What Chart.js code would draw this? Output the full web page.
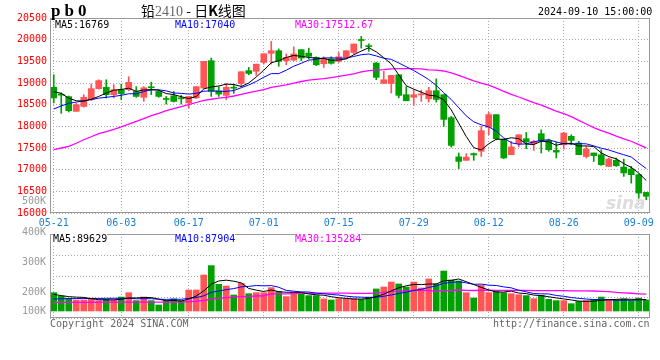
<!DOCTYPE html>
<html><head><meta charset="utf-8">
<script src="https://cdn.jsdelivr.net/npm/chart.js@4"></script>
<style>
html,body{margin:0;padding:0;background:#fff;}
#wrap{position:relative;width:660px;height:360px;overflow:hidden;background:#fff;}
canvas{position:absolute;left:0;top:0;}
.t{position:absolute;white-space:nowrap;font-family:"DejaVu Sans Mono",monospace;font-size:10px;line-height:11px;}
.bg{background:#fff;}
</style></head><body>
<div id="wrap">
<canvas id="vol" width="660" height="360"></canvas>
<canvas id="main" width="660" height="360"></canvas>
<div class="t" style="left:51px;top:2px;font:bold 17px 'Liberation Serif',serif;letter-spacing:4px;line-height:17px;">pb0</div>
<div class="t" style="left:141px;top:2px;font-family:'Noto Sans CJK SC';font-size:14px;line-height:16px;">铅<span style="color:#666;font-family:'Liberation Serif';">2410</span> - 日<b>K</b>线图</div>
<div class="t" style="left:538px;top:6px;color:#000;">2024-09-10 15:00:00</div>
<div class="t bg" style="left:55px;top:19px;color:#000;">MA5:16769</div>
<div class="t bg" style="left:175px;top:19px;color:#0000ff;">MA10:17040</div>
<div class="t bg" style="left:295px;top:19px;color:#ff00ff;">MA30:17512.67</div>
<div class="t bg" style="left:53px;top:233px;color:#000;">MA5:89629</div>
<div class="t bg" style="left:175px;top:233px;color:#0000ff;">MA10:87904</div>
<div class="t bg" style="left:295px;top:233px;color:#ff00ff;">MA30:135284</div>
<div class="t" style="left:22px;top:195px;color:#999;">500K</div>
<div class="t" style="left:22px;top:226px;color:#999;">400K</div>
<div class="t" style="left:22px;top:256px;color:#999;">300K</div>
<div class="t" style="left:22px;top:286px;color:#999;">200K</div>
<div class="t" style="left:22px;top:305px;color:#999;">100K</div>
<div class="t" style="left:50px;top:318px;color:#666;">Copyright 2024 SINA.COM</div>
<div class="t" style="left:493px;top:318px;color:#666;">http://finance.sina.com.cn</div>
<div class="t" style="left:606px;top:194px;color:#ddd;font:italic bold 17px 'DejaVu Sans',sans-serif;line-height:18px;">sina</div>
</div>
<script>
// ---------- data ----------
const dates = ['05-21','05-22','05-23','05-24','05-27','05-28','05-29','05-30','05-31',
'06-03','06-04','06-05','06-06','06-07','06-11','06-12','06-13','06-14',
'06-17','06-18','06-19','06-20','06-21','06-24','06-25','06-26','06-27','06-28',
'07-01','07-02','07-03','07-04','07-05','07-08','07-09','07-10','07-11','07-12',
'07-15','07-16','07-17','07-18','07-19','07-22','07-23','07-24','07-25','07-26',
'07-29','07-30','07-31','08-01','08-02','08-05','08-06','08-07','08-08','08-09',
'08-12','08-13','08-14','08-15','08-16','08-19','08-20','08-21','08-22','08-23',
'08-26','08-27','08-28','08-29','08-30','09-02','09-03','09-04','09-05','09-06',
'09-09','09-10'];
const tickDates = ['05-21','06-03','06-17','07-01','07-15','07-29','08-12','08-26','09-09'];

const open = [18900,18740,18685,18345,18460,18615,18870,18900,18730,18845,
 18845,18805,18670,18900,18805,18630,18705,18645,18540,18655,
 18885,19515,18820,18715,18890,18990,19285,19270,19475,19685,
 19745,19515,19530,19770,19690,19590,19445,19555,19500,19590,
 19705,19990,19850,19460,18990,18990,19190,18730,18670,18725,
 18635,18822,18730,18200,17295,17215,17370,17425,17975,18270,
 17705,17345,17600,17715,17600,17830,17675,17445,17575,17770,
 17615,17305,17385,17345,17075,17215,17060,17015,16885,16475];
const high = [19190,18775,18700,18530,18730,18975,19075,19075,18960,18975,
 19145,18915,18915,19020,18835,18690,18805,18715,18690,18915,
 19500,19575,18915,18990,18975,19260,19360,19435,19675,19960,
 19785,19670,19835,19770,19805,19605,19605,19605,19705,19745,
 19900,20075,19905,19475,19270,19175,19190,18915,18845,18835,
 18900,19095,18730,18230,17385,17370,17385,18000,18320,18270,
 17705,17655,17805,17860,17675,17920,17705,17630,17860,17805,
 17655,17540,17385,17460,17270,17270,17245,17075,16905,16475];
const low = [18540,18300,18330,18345,18440,18590,18860,18655,18655,18615,
 18820,18670,18575,18730,18670,18515,18560,18515,18420,18640,
 18870,18690,18690,18615,18760,18915,19190,19175,19435,19435,
 19385,19420,19515,19515,19555,19400,19360,19435,19475,19560,
 19670,19805,19730,19075,18990,18770,18655,18590,18485,18575,
 18560,18560,18000,17520,17025,17215,17215,17305,17805,17690,
 17255,17345,17525,17485,17445,17385,17425,17270,17475,17575,
 17345,17270,17190,17100,17075,17075,16845,16690,16345,16305];
const close = [18655,18720,18360,18500,18670,18870,19055,18730,18845,18755,
 19015,18690,18890,18890,18690,18620,18575,18635,18690,18915,
 19500,18805,18745,18900,18880,19260,19220,19435,19675,19745,
 19500,19590,19670,19575,19615,19420,19555,19455,19605,19745,
 19900,19980,19840,19130,19075,19175,18715,18590,18730,18735,
 18822,18620,18160,17560,17190,17290,17340,17900,18270,17715,
 17270,17525,17805,17640,17655,17655,17460,17405,17845,17675,
 17345,17475,17325,17115,17245,17090,16925,16885,16460,16385];
const volume = [143000,117000,99000,86000,86000,91000,81000,91000,86000,109000,
 143000,81000,109000,81000,47000,81000,94000,81000,164000,164000,
 281000,354000,208000,195000,125000,216000,135000,143000,143000,182000,
 151000,112000,143000,138000,120000,120000,94000,86000,96000,96000,
 96000,91000,109000,172000,187000,226000,211000,187000,226000,179000,
 250000,211000,312000,242000,234000,143000,101000,200000,143000,153000,
 143000,135000,127000,120000,96000,122000,91000,81000,81000,57000,
 75000,81000,91000,109000,86000,86000,94000,81000,101000,86000];

// moving-average values before a full window exists
const ma5Head = [18800,18760,18650,18590];
const ma10Head = [18400,18470,18530,18560,18590,18620,18650,18670,18690];
const ma30Head = [17462,17500,17540,17610,17690,17760,17830,17880,17930,17985,
 18050,18115,18180,18245,18300,18360,18410,18455,18500,18550,
 18600,18625,18650,18670,18700,18740,18780,18810,18845];
const vma5Head = [130000,120000,112000,108000];
const vma10Head = [94000,95000,96000,97000,97000,98000,98000,99000,99000];
const vma30Head = [68000,68000,68000,68000,68000,68000,68500,68500,68500,69000,
 69000,69000,69500,69500,69500,70000,70000,70000,73000,76000,
 82000,92000,99000,105000,108000,112000,114000,117000,119000];

// ---------- helpers ----------
function movingAverage(values, n, head){
  return values.map((v,i)=>{
    if(i < n-1) return head[i];
    let s=0; for(let k=i-n+1;k<=i;k++) s+=values[k];
    return s/n;
  });
}
const RED='#ff5555', GREEN='#00a000';
const GRID='#a8a8a8', FRAME='#999999';
const MONO='"DejaVu Sans Mono", monospace';
const colors = close.map((c,i)=> c>=open[i] ? RED : GREEN);

const framePlugin = {
  id:'frame',
  afterDraw(chart){
    const {ctx, chartArea:a} = chart;
    ctx.save(); ctx.strokeStyle=FRAME; ctx.lineWidth=1;
    ctx.strokeRect(Math.round(a.left)+0.5, Math.round(a.top)+0.5, Math.round(a.right-a.left)-1, Math.round(a.bottom-a.top)-1);
    ctx.restore();
  }
};
const keepDateTicks = (scale)=>{ scale.ticks = scale.ticks.filter(t=> tickDates.includes(dates[t.value])); };
const lineDs = (label,data,color,w)=>({type:'line',label,data,borderColor:color,borderWidth:w,pointRadius:0,tension:0,order:0,fill:false});

// ---------- main (candles) ----------
new Chart(document.getElementById('main'),{
  type:'bar',
  data:{labels:dates,datasets:[
    lineDs('MA5', movingAverage(close,5,ma5Head), '#000000',1),
    lineDs('MA10', movingAverage(close,10,ma10Head), '#0000ff',1),
    lineDs('MA30', movingAverage(close,30,ma30Head), '#ff00ff',1.3),
    {label:'wick',data:low.map((l,i)=>[l,high[i]]),backgroundColor:colors,barThickness:1,grouped:false,order:2},
    {label:'body',data:open.map((o,i)=>[o,close[i]]),backgroundColor:colors,barThickness:6,minBarLength:1,grouped:false,order:1}
  ]},
  options:{
    responsive:false,animation:false,events:[],
    layout:{padding:{left:0,right:10,top:18,bottom:127}},
    plugins:{legend:{display:false},tooltip:{enabled:false}},
    scales:{
      x:{offset:true,afterBuildTicks:keepDateTicks,afterFit:s=>{s.height=20;},
         grid:{offset:false,color:GRID,drawTicks:false},border:{display:false,dash:[1,2]},
         ticks:{autoSkip:false,maxRotation:0,padding:4,color:'#1a80d9',font:{family:MONO,size:10}}},
      y:{min:16000,max:20500,afterFit:s=>{s.width=50;},
         ticks:{stepSize:500,padding:3,color:'#ff0000',font:{family:MONO,size:10},callback:v=>String(v)},
         grid:{color:GRID,drawTicks:false},border:{display:false,dash:[1,2]}}
    }
  },
  plugins:[framePlugin]
});

// ---------- volume ----------
const VOL_AXIS_MIN=-54600, VOL_AXIS_MAX=600600;
new Chart(document.getElementById('vol'),{
  type:'bar',
  data:{labels:dates,datasets:[
    lineDs('MA5', movingAverage(volume,5,vma5Head), '#000000',1),
    lineDs('MA10', movingAverage(volume,10,vma10Head), '#0000ff',1),
    lineDs('MA30', movingAverage(volume,30,vma30Head), '#ff00ff',1.3),
    {label:'vol',data:volume,backgroundColor:colors,barThickness:6,order:1}
  ]},
  options:{
    responsive:false,animation:false,events:[],
    layout:{padding:{left:0,right:10,top:234,bottom:42}},
    plugins:{legend:{display:false},tooltip:{enabled:false}},
    scales:{
      x:{offset:true,afterBuildTicks:keepDateTicks,afterFit:s=>{s.height=0;},
         grid:{offset:false,color:GRID,drawTicks:false},border:{display:false,dash:[1,2]},
         ticks:{display:false,autoSkip:false}},
      y:{min:VOL_AXIS_MIN,max:VOL_AXIS_MAX,afterFit:s=>{s.width=50;},
         ticks:{count:5,display:false},
         grid:{color:GRID,drawTicks:false},border:{display:false,dash:[1,2]}}
    }
  },
  plugins:[framePlugin]
});
</script>
</body></html>
